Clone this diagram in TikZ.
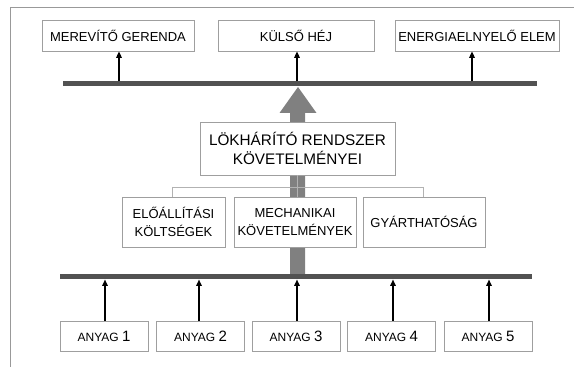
\documentclass[tikz,border=0pt]{standalone}
\usepackage{fontspec}
\setmainfont{Liberation Sans}
\usetikzlibrary{arrows.meta}
\begin{document}
\begin{tikzpicture}[x=1pt,y=1pt,
  box/.style={draw=gray!75, line width=0.7pt, fill=white, inner sep=0pt, align=center,
    font=\fontsize{13}{18}\selectfont},
  bar/.style={draw=black!68, line width=5pt},
  arr/.style={-{Triangle[length=6.5pt,width=5.5pt]}, line width=1.5pt, black},
  tree/.style={draw=gray!60, line width=0.7pt},
  frame/.style={draw=gray!80, line width=0.8pt}]
\useasboundingbox (0,0) rectangle (574,367);
% frame
\coordinate (f1) at (574,360);
\coordinate (f2) at (10,360);
\coordinate (f3) at (10,0);
\draw[frame] (f1) -- (f2) -- (f3);
% big arrow (behind boxes)
\fill[black!50] (290,90) -- (305,90) -- (305,254) -- (316.5,254) -- (298,280) -- (279.5,254) -- (290,254) -- cycle;
% tree lines
\coordinate (t1) at (172,180);
\coordinate (t2) at (423,180);
\coordinate (tm) at (297,180);
\draw[tree] (t1) -- (t2);
% boxes
\node[box, minimum width=152, minimum height=31] (mer) at (118,331.5) {MEREVÍTŐ GERENDA};
\node[box, minimum width=156, minimum height=31] (kul) at (296,331.5) {KÜLSŐ HÉJ};
\node[box, minimum width=164, minimum height=31] (ene) at (477,331.5) {ENERGIAELNYELŐ ELEM};
\node[box, minimum width=195, minimum height=53, font=\fontsize{15.3}{19}\selectfont] (lok) at (297.5,218.5) {LÖKHÁRÍTÓ RENDSZER\\KÖVETELMÉNYEI};
\node[box, minimum width=103, minimum height=50] (elo) at (173.5,145) {ELŐÁLLÍTÁSI\\KÖLTSÉGEK};
\node[box, minimum width=122, minimum height=50] (mec) at (295,145) {MECHANIKAI\\KÖVETELMÉNYEK};
\node[box, minimum width=122, minimum height=50] (gya) at (424,145) {GYÁRTHATÓSÁG};
\draw[tree] (t1) -- (t1 |- elo.north);
\draw[tree] (t2) -- (t2 |- gya.north);
\draw[tree] (lok.south -| tm) -- (tm |- mec.north);
% material boxes
\newcommand{\anyag}[1]{{\fontsize{12}{14}\selectfont ANYAG }{\fontsize{15}{15}\selectfont #1}}
\node[box, minimum width=88, minimum height=30] (m1) at (104,31) {\anyag{1}};
\node[box, minimum width=88, minimum height=30] (m2) at (200.5,31) {\anyag{2}};
\node[box, minimum width=88, minimum height=30] (m3) at (296,31) {\anyag{3}};
\node[box, minimum width=88, minimum height=30] (m4) at (391.5,31) {\anyag{4}};
\node[box, minimum width=88, minimum height=30] (m5) at (488,31) {\anyag{5}};
% bars
\coordinate (tb1) at (63,283);
\coordinate (tb2) at (537,283);
\coordinate (bb1) at (60,90);
\coordinate (bb2) at (532,90);
\draw[bar] (tb1) -- (tb2);
\draw[bar] (bb1) -- (bb2);
% top arrows
\coordinate (u1) at (119,285.5);
\coordinate (u2) at (297,285.5);
\coordinate (u3) at (472,285.5);
\draw[arr] (u1) -- (u1 |- mer.south);
\draw[arr] (u2) -- (u2 |- kul.south);
\draw[arr] (u3) -- (u3 |- ene.south);
% bottom arrows
\coordinate (d1) at (105,87.5);
\coordinate (d2) at (199,87.5);
\coordinate (d3) at (297,87.5);
\coordinate (d4) at (393,87.5);
\coordinate (d5) at (489,87.5);
\draw[arr] (d1 |- m1.north) -- (d1);
\draw[arr] (d2 |- m2.north) -- (d2);
\draw[arr] (d3 |- m3.north) -- (d3);
\draw[arr] (d4 |- m4.north) -- (d4);
\draw[arr] (d5 |- m5.north) -- (d5);
\end{tikzpicture}
\end{document}
